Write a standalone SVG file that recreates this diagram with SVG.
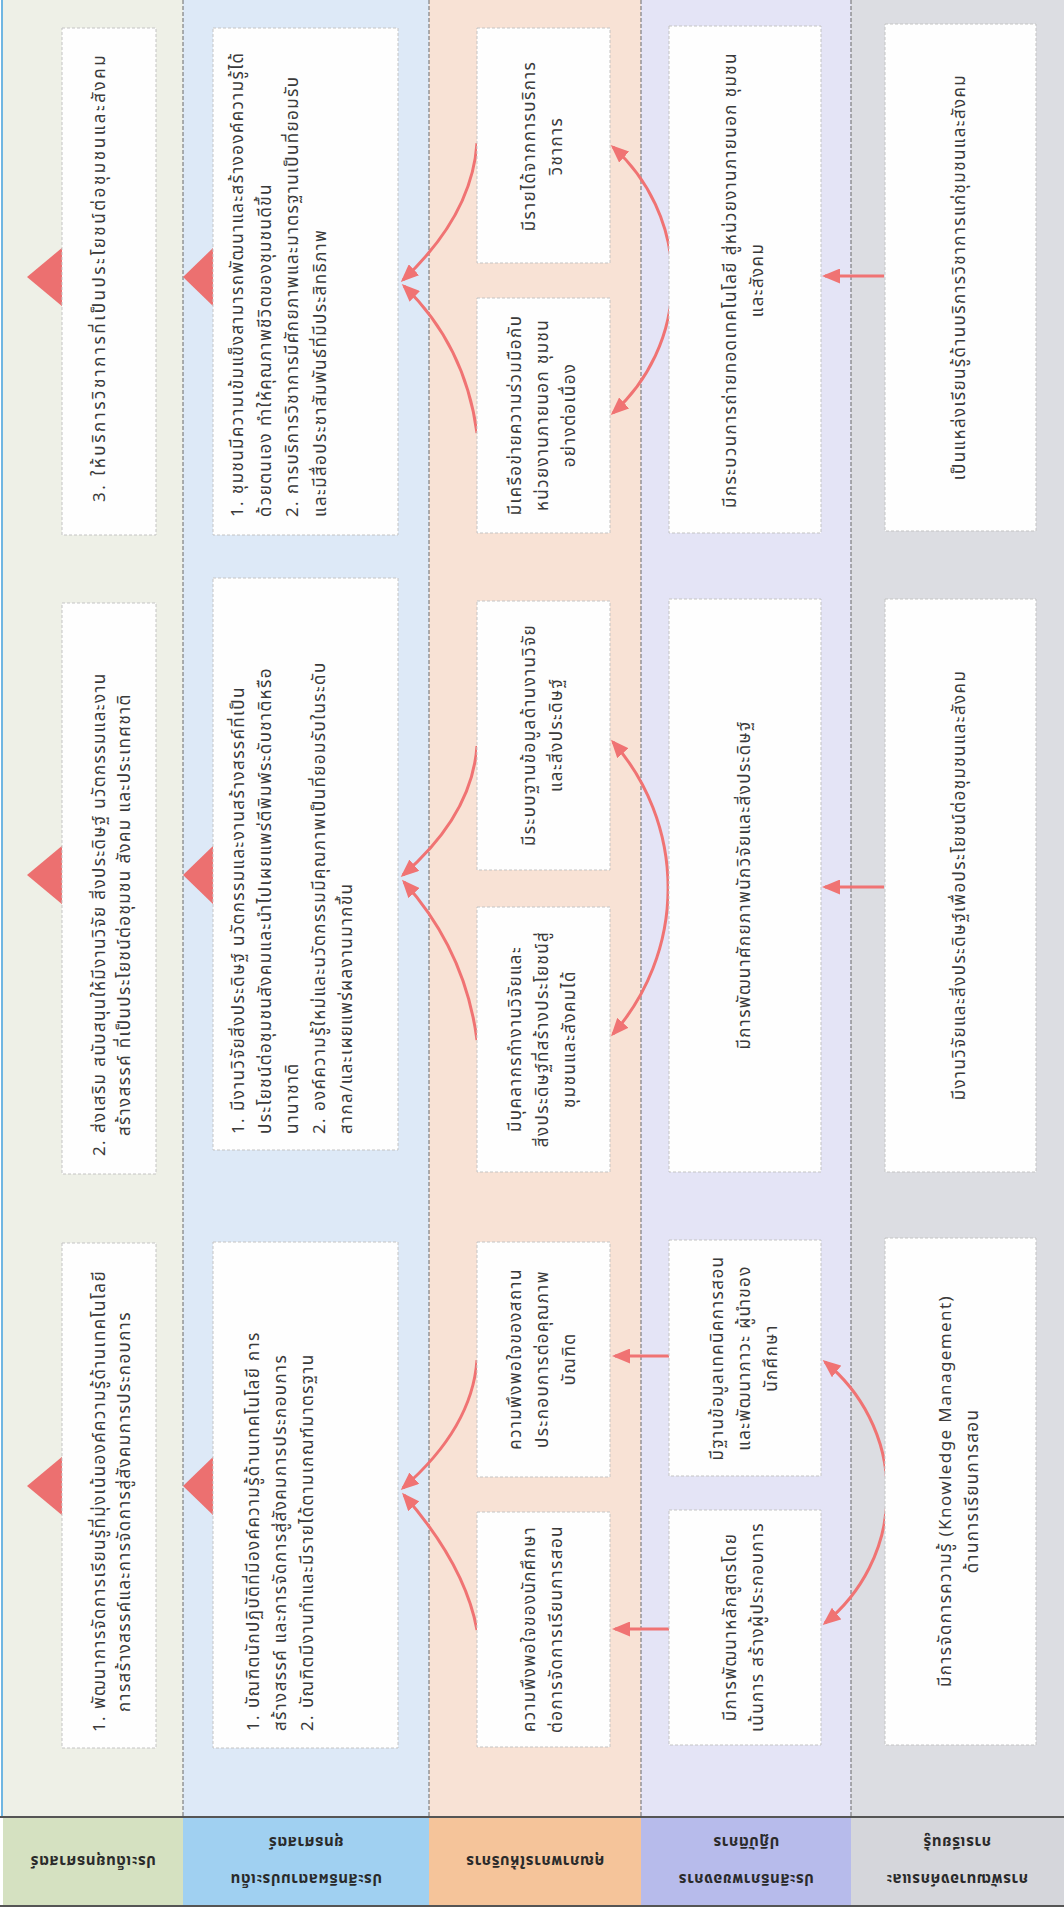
<svg xmlns="http://www.w3.org/2000/svg" width="1064" height="1910" viewBox="0 0 1064 1910">
<style>
.t{font-family:'Noto Sans Thai','Noto Sans','DejaVu Sans',sans-serif;font-size:17px;letter-spacing:1.4px;fill:#3a3a3a}
.c{text-anchor:middle}
.lbl{font-family:'Noto Sans Thai','Noto Sans','DejaVu Sans',sans-serif;font-size:15px;letter-spacing:0.6px;fill:#2a2a2a;font-weight:bold;text-anchor:middle}
.box{fill:#fefefe;stroke:#c4c4c4;stroke-width:1;stroke-dasharray:3 2}
.sep{stroke:#6a6a6a;stroke-width:1;stroke-dasharray:4 2}
.tri{fill:#ec7070}
.con{fill:none;stroke:#f07373;stroke-width:3}
</style>
<defs>
<marker id="ah" viewBox="0 0 12 10" refX="10" refY="5" markerWidth="6" markerHeight="5" orient="auto-start-reverse" markerUnits="strokeWidth">
<path d="M0,0 L12,5 L0,10 z" fill="#f07373"/>
</marker>
</defs>
<rect x="0" y="0" width="1064" height="1910" fill="#ffffff"/>
<g id="lanes">
<rect x="3" y="0" width="180" height="1817" fill="#eef0e7"/>
<rect x="183" y="0" width="246" height="1817" fill="#dde9f7"/>
<rect x="429" y="0" width="212" height="1817" fill="#f8e2d5"/>
<rect x="641" y="0" width="210" height="1817" fill="#e4e4f6"/>
<rect x="851" y="0" width="213" height="1817" fill="#dcdde2"/>
<line x1="2" y1="0" x2="2" y2="1817" stroke="#6fb6e2" stroke-width="2"/>
<line class="sep" x1="183" y1="0" x2="183" y2="1906"/>
<line class="sep" x1="429" y1="0" x2="429" y2="1906"/>
<line class="sep" x1="641" y1="0" x2="641" y2="1906"/>
<line class="sep" x1="851" y1="0" x2="851" y2="1906"/>
</g>
<g id="labels">
<rect x="3" y="1818" width="180" height="88" fill="#d5e1c1"/>
<rect x="183" y="1818" width="246" height="88" fill="#a0d0f1"/>
<rect x="429" y="1818" width="212" height="88" fill="#f5c49a"/>
<rect x="641" y="1818" width="210" height="88" fill="#b7bbeb"/>
<rect x="851" y="1818" width="213" height="88" fill="#d5d6db"/>
<line x1="0" y1="1817" x2="1064" y2="1817" stroke="#555" stroke-width="2"/>
<line x1="0" y1="1906" x2="1064" y2="1906" stroke="#555" stroke-width="2"/>
<g id="lbl-1"><text class="lbl" transform="translate(93,1856) rotate(180)">ประเด็นยุทธศาสตร์</text></g>
<g id="lbl-2"><text class="lbl" transform="translate(306,1874) rotate(180)"><tspan x="0" y="0">ประสิทธิผลตามประเด็น</tspan><tspan x="0" y="37">ยุทธศาสตร์</tspan></text></g>
<g id="lbl-3"><text class="lbl" transform="translate(535,1856) rotate(180)">คุณภาพการให้บริการ</text></g>
<g id="lbl-4"><text class="lbl" transform="translate(746,1874) rotate(180)"><tspan x="0" y="0">ประสิทธิภาพของการ</tspan><tspan x="0" y="37">ปฏิบัติการ</tspan></text></g>
<g id="lbl-5"><text class="lbl" transform="translate(957,1874) rotate(180)"><tspan x="0" y="0">การพัฒนาองค์กรและ</tspan><tspan x="0" y="37">การเรียนรู้</tspan></text></g>
</g>
<g id="triangles">
<polygon class="tri" points="27,277 63,247 63,307"/>
<polygon class="tri" points="183,277 214,247 214,307"/>
<polygon class="tri" points="27,875 63,845 63,905"/>
<polygon class="tri" points="183,875 214,845 214,905"/>
<polygon class="tri" points="27,1486 63,1456 63,1516"/>
<polygon class="tri" points="183,1486 214,1456 214,1516"/>
</g>
<g id="connectors">
<line class="con" x1="884" y1="276" x2="825" y2="276" marker-end="url(#ah)"/>
<path class="con" d="M613,147 A179,179 0 0 1 613,413" marker-start="url(#ah)" marker-end="url(#ah)"/>
<path class="con" d="M477,143 Q472,215 403,280" marker-end="url(#ah)"/>
<path class="con" d="M477,433 Q465,345 404,286" marker-end="url(#ah)"/>
<line class="con" x1="884" y1="887" x2="825" y2="887" marker-end="url(#ah)"/>
<path class="con" d="M613,742 A221,221 0 0 1 613,1034" marker-start="url(#ah)" marker-end="url(#ah)"/>
<path class="con" d="M477,746 Q472,815 403,875" marker-end="url(#ah)"/>
<path class="con" d="M477,1040 Q465,950 404,882" marker-end="url(#ah)"/>
<line class="con" x1="670" y1="1356" x2="615" y2="1356" marker-end="url(#ah)"/>
<line class="con" x1="670" y1="1629" x2="615" y2="1629" marker-end="url(#ah)"/>
<path class="con" d="M825,1362 A168,168 0 0 1 825,1623" marker-start="url(#ah)" marker-end="url(#ah)"/>
<path class="con" d="M477,1360 Q472,1428 403,1488" marker-end="url(#ah)"/>
<path class="con" d="M477,1630 Q465,1565 404,1495" marker-end="url(#ah)"/>
</g>
<g id="n-g3"><rect class="box" x="62" y="28" width="94" height="507"/>
<text class="t" transform="translate(105,502) rotate(-90)" textLength="448" lengthAdjust="spacing">3. ให้บริการวิชาการที่เป็นประโยชน์ต่อชุมชนและสังคม</text></g>
<g id="n-g2"><rect class="box" x="62" y="603" width="94" height="571"/>
<text class="t" transform="translate(105,1156) rotate(-90)"><tspan x="0" y="0">2. ส่งเสริม สนับสนุนให้มีงานวิจัย สิ่งประดิษฐ์ นวัตกรรมและงาน</tspan><tspan x="20" y="25">สร้างสรรค์ ที่เป็นประโยชน์ต่อชุมชน สังคม และประเทศชาติ</tspan></text></g>
<g id="n-g1"><rect class="box" x="62" y="1243" width="94" height="505"/>
<text class="t" transform="translate(105,1732) rotate(-90)"><tspan x="0" y="0">1. พัฒนาการจัดการเรียนรู้ที่มุ่งเน้นองค์ความรู้ด้านเทคโนโลยี</tspan><tspan x="20" y="25">การสร้างสรรค์และการจัดการสู่สังคมการประกอบการ</tspan></text></g>
<g id="n-b3"><rect class="box" x="213" y="28" width="185" height="507"/>
<text class="t" transform="translate(243,517) rotate(-90)"><tspan x="0" y="0">1. ชุมชนมีความเข้มแข็งสามารถพัฒนาและสร้างองค์ความรู้ได้</tspan><tspan x="0" y="27.5">ด้วยตนเอง ทำให้คุณภาพชีวิตของชุมชนดีขึ้น</tspan><tspan x="0" y="55">2. การบริการวิชาการมีศักยภาพและมาตรฐานเป็นที่ยอมรับ</tspan><tspan x="0" y="82.5">และมีสื่อประชาสัมพันธ์ที่มีประสิทธิภาพ</tspan></text></g>
<g id="n-b2"><rect class="box" x="213" y="578" width="185" height="572"/>
<text class="t" transform="translate(244,1134) rotate(-90)"><tspan x="0" y="0">1. มีงานวิจัยสิ่งประดิษฐ์ นวัตกรรมและงานสร้างสรรค์ที่เป็น</tspan><tspan x="0" y="27">ประโยชน์ต่อชุมชนสังคมและนำไปเผยแพร่ตีพิมพ์ระดับชาติหรือ</tspan><tspan x="0" y="54">นานาชาติ</tspan><tspan x="0" y="81">2. องค์ความรู้ใหม่และนวัตกรรมมีคุณภาพเป็นที่ยอมรับในระดับ</tspan><tspan x="0" y="108">สากล/และเผยแพร่ผลงานมากขึ้น</tspan></text></g>
<g id="n-b1"><rect class="box" x="213" y="1242" width="185" height="506"/>
<text class="t" transform="translate(259,1731) rotate(-90)"><tspan x="0" y="0">1. บัณฑิตนักปฏิบัติที่มีองค์ความรู้ด้านเทคโนโลยี การ</tspan><tspan x="0" y="27">สร้างสรรค์ และการจัดการสู่สังคมการประกอบการ</tspan><tspan x="0" y="54">2. บัณฑิตมีงานทำและมีรายได้ตามเกณฑ์มาตรฐาน</tspan></text></g>
<g id="n-o1"><rect class="box" x="477" y="28" width="133" height="235"/>
<text class="t c" transform="translate(535,146) rotate(-90)"><tspan x="0" y="0">มีรายได้จากการบริการ</tspan><tspan x="0" y="27">วิชาการ</tspan></text></g>
<g id="n-o2"><rect class="box" x="477" y="298" width="133" height="235"/>
<text class="t c" transform="translate(521,415) rotate(-90)"><tspan x="0" y="0">มีเครือข่ายความร่วมมือกับ</tspan><tspan x="0" y="27">หน่วยงานภายนอก ชุมชน</tspan><tspan x="0" y="54">อย่างต่อเนื่อง</tspan></text></g>
<g id="n-o3"><rect class="box" x="477" y="601" width="133" height="269"/>
<text class="t c" transform="translate(535,735) rotate(-90)"><tspan x="0" y="0">มีระบบฐานข้อมูลด้านงานวิจัย</tspan><tspan x="0" y="27">และสิ่งประดิษฐ์</tspan></text></g>
<g id="n-o4"><rect class="box" x="477" y="907" width="133" height="265"/>
<text class="t c" transform="translate(521,1039) rotate(-90)"><tspan x="0" y="0">มีบุคลากรทำงานวิจัยและ</tspan><tspan x="0" y="27">สิ่งประดิษฐ์ที่สร้างประโยชน์สู่</tspan><tspan x="0" y="54">ชุมชนและสังคมได้</tspan></text></g>
<g id="n-o5"><rect class="box" x="477" y="1242" width="133" height="235"/>
<text class="t c" transform="translate(521,1359) rotate(-90)"><tspan x="0" y="0">ความพึงพอใจของสถาน</tspan><tspan x="0" y="27">ประกอบการต่อคุณภาพ</tspan><tspan x="0" y="54">บัณฑิต</tspan></text></g>
<g id="n-o6"><rect class="box" x="477" y="1512" width="133" height="235"/>
<text class="t c" transform="translate(535,1629) rotate(-90)"><tspan x="0" y="0">ความพึงพอใจของนักศึกษา</tspan><tspan x="0" y="27">ต่อการจัดการเรียนการสอน</tspan></text></g>
<g id="n-p1"><rect class="box" x="669" y="26" width="152" height="507"/>
<text class="t c" transform="translate(736,280) rotate(-90)"><tspan x="0" y="0">มีกระบวนการถ่ายทอดเทคโนโลยี สู่หน่วยงานภายนอก ชุมชน</tspan><tspan x="0" y="27">และสังคม</tspan></text></g>
<g id="n-p2"><rect class="box" x="669" y="599" width="152" height="573"/>
<text class="t c" transform="translate(750,885) rotate(-90)">มีการพัฒนาศักยภาพนักวิจัยและสิ่งประดิษฐ์</text></g>
<g id="n-p3"><rect class="box" x="669" y="1240" width="152" height="236"/>
<text class="t c" transform="translate(723,1358) rotate(-90)"><tspan x="0" y="0">มีฐานข้อมูลเทคนิคการสอน</tspan><tspan x="0" y="27">และพัฒนาภาวะ ผู้นำของ</tspan><tspan x="0" y="54">นักศึกษา</tspan></text></g>
<g id="n-p4"><rect class="box" x="669" y="1510" width="152" height="235"/>
<text class="t c" transform="translate(736,1627) rotate(-90)"><tspan x="0" y="0">มีการพัฒนาหลักสูตรโดย</tspan><tspan x="0" y="27">เน้นการ สร้างผู้ประกอบการ</tspan></text></g>
<g id="n-y1"><rect class="box" x="885" y="24" width="151" height="507"/>
<text class="t c" transform="translate(965,277) rotate(-90)">เป็นแหล่งเรียนรู้ด้านบริการวิชาการแก่ชุมชนและสังคม</text></g>
<g id="n-y2"><rect class="box" x="885" y="599" width="151" height="573"/>
<text class="t c" transform="translate(965,885) rotate(-90)">มีงานวิจัยและสิ่งประดิษฐ์เพื่อประโยชน์ต่อชุมชนและสังคม</text></g>
<g id="n-y3"><rect class="box" x="885" y="1238" width="151" height="507"/>
<text class="t c" transform="translate(951,1491) rotate(-90)"><tspan x="0" y="0">มีการจัดการความรู้ (Knowledge Management)</tspan><tspan x="0" y="27">ด้านการเรียนการสอน</tspan></text></g>
</svg>
